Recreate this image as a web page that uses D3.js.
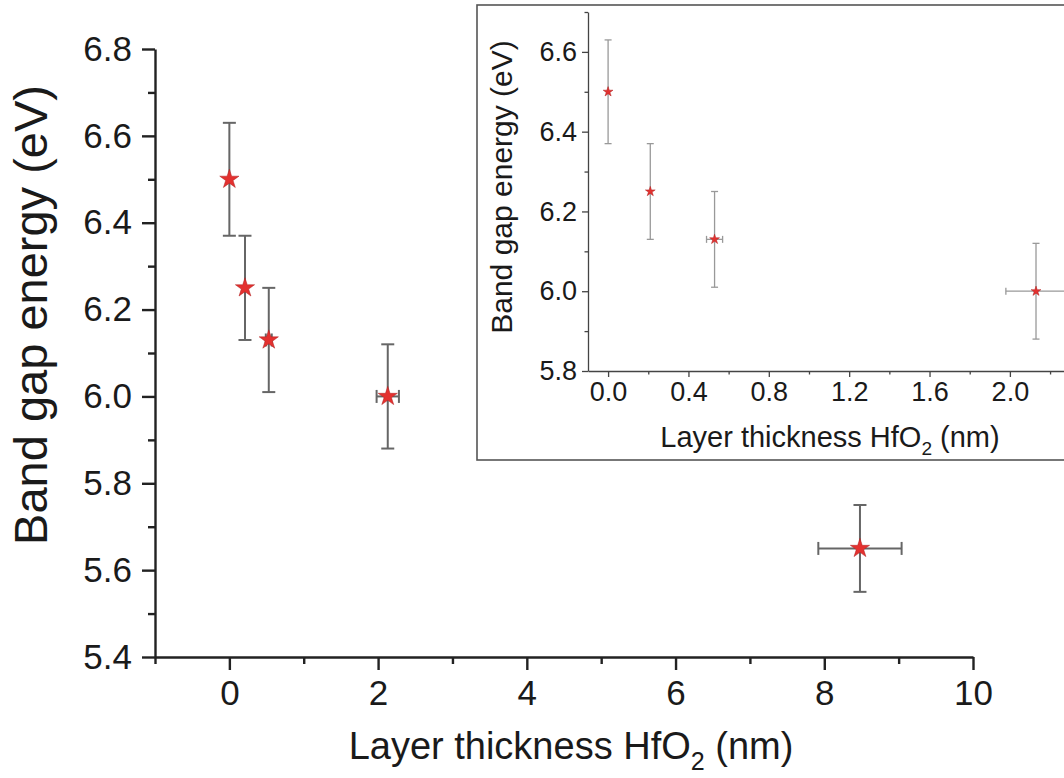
<!DOCTYPE html>
<html>
<head>
<meta charset="utf-8">
<script src="https://cdn.jsdelivr.net/npm/d3@7"></script>
<style>
  body { margin: 0; background: #fff; }
  svg { display: block; }
  text { font-family: "Liberation Sans", Arial, sans-serif; fill: #1a1a1a; }
</style>
</head>
<body>
<svg id="chart" width="1064" height="778"></svg>
<script>
// Band gap energy versus HfO2 layer thickness
const thickness    = [0, 0.21, 0.53, 2.13, 8.48];     // nm
const thicknessErr = [0, 0, 0.04, 0.15, 0.56];        // nm
const bandGap      = [6.5, 6.25, 6.13, 6.0, 5.65];    // eV
const bandGapErr   = [0.13, 0.12, 0.12, 0.12, 0.10];  // eV

const mainXTicks  = [0, 2, 4, 6, 8, 10];
const mainXMinor  = [-1, 1, 3, 5, 7, 9];
const mainYTicks  = [5.4, 5.6, 5.8, 6.0, 6.2, 6.4, 6.6, 6.8];
const mainYMinor  = [5.5, 5.7, 5.9, 6.1, 6.3, 6.5, 6.7];
const insetXTicks = [0.0, 0.4, 0.8, 1.2, 1.6, 2.0];
const insetXMinor = [0.2, 0.6, 1.0, 1.4, 1.8, 2.2, 2.4, 2.6];
const insetYTicks = [5.8, 6.0, 6.2, 6.4, 6.6];
const insetYMinor = [5.9, 6.1, 6.3, 6.5, 6.7];

const xTitle = ["Layer thickness HfO", "2", " (nm)"];
const yTitle = "Band gap energy (eV)";

const points = thickness.map((t, i) => ({
  x: t, xe: thicknessErr[i], y: bandGap[i], ye: bandGapErr[i]
}));

const svg = d3.select("#chart");
const RED = "#e3312f";

function drawPanel(g, o) {
  const x = d3.scaleLinear(o.xDomain, o.xRange);
  const y = d3.scaleLinear(o.yDomain, o.yRange);

  // axes: major ticks with labels, minor ticks without
  const yAxis = g.append("g").attr("transform", `translate(${o.xRange[0]},0)`);
  yAxis.call(d3.axisLeft(y).tickValues(o.yTicks).tickSize(o.major).tickSizeOuter(0)
      .tickPadding(o.pad).tickFormat(d3.format(".1f")));
  yAxis.append("g").call(d3.axisLeft(y).tickValues(o.yMinor).tickSize(o.minor)
      .tickSizeOuter(0).tickFormat(""))
    .select(".domain").remove();

  const xAxis = g.append("g").attr("transform", `translate(0,${o.yRange[0]})`);
  xAxis.call(d3.axisBottom(x).tickValues(o.xTicks).tickSize(o.major).tickSizeOuter(0)
      .tickPadding(o.pad).tickFormat(d3.format(o.xFmt)));
  xAxis.append("g").call(d3.axisBottom(x).tickValues(o.xMinor).tickSize(o.minor)
      .tickSizeOuter(0).tickFormat(""))
    .select(".domain").remove();

  [yAxis, xAxis].forEach(a => {
    a.selectAll("path.domain").attr("stroke", o.axisColor).attr("stroke-width", o.axisWidth);
    a.selectAll(".tick line").attr("stroke", o.axisColor).attr("stroke-width", o.axisWidth);
    a.selectAll(".tick text").style("font-size", o.tickFont + "px").style("fill", "#1a1a1a")
      .attr("font-family", null);
  });

  // error bars
  const inside = points.filter(p => p.x >= o.xDomain[0] && p.x <= o.xDomain[1]);
  const eb = g.append("g").attr("stroke", o.errColor).attr("stroke-width", o.errWidth)
    .attr("fill", "none");
  inside.forEach(p => {
    const cx = x(p.x), cy = y(p.y), c = o.cap / 2;
    const y0 = y(p.y - p.ye), y1 = y(p.y + p.ye);
    eb.append("line").attr("x1", cx).attr("x2", cx).attr("y1", y0).attr("y2", y1);
    eb.append("line").attr("x1", cx - c).attr("x2", cx + c).attr("y1", y0).attr("y2", y0);
    eb.append("line").attr("x1", cx - c).attr("x2", cx + c).attr("y1", y1).attr("y2", y1);
    if (p.xe > 0) {
      const x0 = x(p.x - p.xe), x1 = x(p.x + p.xe);
      eb.append("line").attr("x1", x0).attr("x2", x1).attr("y1", cy).attr("y2", cy);
      eb.append("line").attr("x1", x0).attr("x2", x0).attr("y1", cy - c).attr("y2", cy + c);
      eb.append("line").attr("x1", x1).attr("x2", x1).attr("y1", cy - c).attr("y2", cy + c);
    }
  });

  // star markers
  g.append("g").selectAll("path").data(inside).join("path")
    .attr("d", d3.symbol(d3.symbolStar, o.starSize))
    .attr("transform", d => `translate(${x(d.x)},${y(d.y)})`)
    .attr("fill", RED)
    .attr("stroke", "#b02020").attr("stroke-width", 0.5);

  // axis titles
  const xt = g.append("text").attr("x", o.xTitlePos[0]).attr("y", o.xTitlePos[1])
    .attr("text-anchor", "middle").style("font-size", o.xTitleFont + "px");
  xt.append("tspan").text(xTitle[0]);
  xt.append("tspan").text(xTitle[1]).attr("dy", o.xTitleFont * 0.28)
    .style("font-size", (o.xTitleFont * 0.66) + "px");
  xt.append("tspan").text(xTitle[2]).attr("dy", -o.xTitleFont * 0.28);

  g.append("text")
    .attr("transform", `translate(${o.yTitlePos[0]},${o.yTitlePos[1]}) rotate(-90)`)
    .attr("text-anchor", "middle").style("font-size", o.yTitleFont + "px")
    .text(yTitle);
}

// main panel
drawPanel(svg.append("g"), {
  xDomain: [-1, 10], xRange: [155, 973],
  yDomain: [5.4, 6.8], yRange: [657, 49],
  xTicks: mainXTicks, xMinor: mainXMinor, yTicks: mainYTicks, yMinor: mainYMinor,
  xFmt: "d", major: 13, minor: 7, pad: 10,
  axisColor: "#222", axisWidth: 2.4, tickFont: 35,
  errColor: "#666", errWidth: 2, cap: 13, starSize: 115,
  xTitlePos: [571, 759], xTitleFont: 38,
  yTitlePos: [47, 315], yTitleFont: 47
});

// inset panel
const inset = svg.append("g");
inset.append("rect").attr("x", 477).attr("y", 5).attr("width", 700).attr("height", 455)
  .attr("fill", "#fff").attr("stroke", "#555").attr("stroke-width", 1.6);
drawPanel(inset, {
  xDomain: [-0.1, 2.9], xRange: [588, 1190.7],
  yDomain: [5.8, 6.7], yRange: [371, 12],
  xTicks: insetXTicks, xMinor: insetXMinor, yTicks: insetYTicks, yMinor: insetYMinor,
  xFmt: ".1f", major: 6, minor: 3.5, pad: 5,
  axisColor: "#444", axisWidth: 1.3, tickFont: 27,
  errColor: "#999", errWidth: 1.3, cap: 7, starSize: 30,
  xTitlePos: [830, 447], xTitleFont: 29,
  yTitlePos: [512, 187], yTitleFont: 30
});
</script>
</body>
</html>
